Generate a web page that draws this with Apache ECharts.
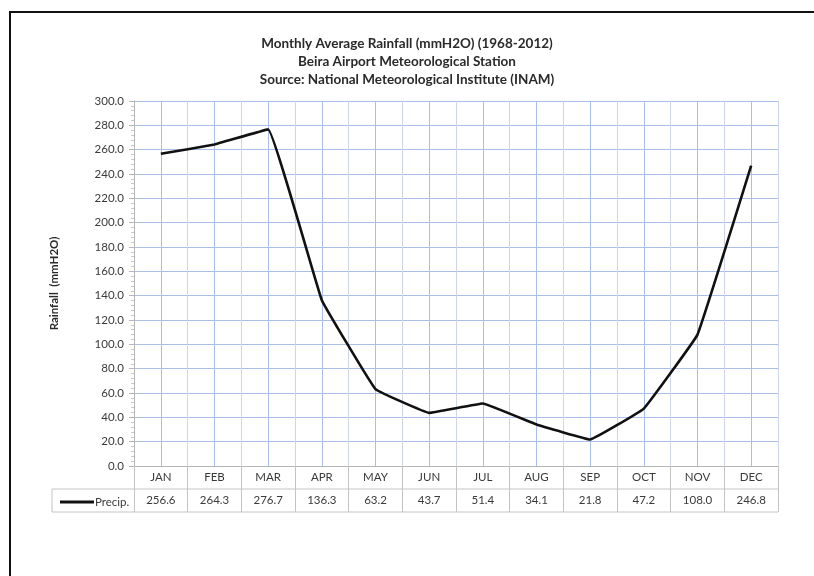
<!DOCTYPE html>
<html>
<head>
<meta charset="utf-8">
<script src="https://cdn.jsdelivr.net/npm/echarts@6/dist/echarts.min.js"></script>
<style>
  html, body { margin: 0; padding: 0; background: #fff; }
  #chart { width: 814px; height: 576px; }
</style>
</head>
<body>
<div id="chart"></div>
<script>
// Monthly average rainfall at Beira Airport, 1968-2012
const months = ['JAN', 'FEB', 'MAR', 'APR', 'MAY', 'JUN', 'JUL', 'AUG', 'SEP', 'OCT', 'NOV', 'DEC'];
const precip = [256.6, 264.3, 276.7, 136.3, 63.2, 43.7, 51.4, 34.1, 21.8, 47.2, 108.0, 246.8];
const seriesName = 'Precip.';
const titleLines = [
  'Monthly Average Rainfall (mmH2O) (1968-2012)',
  'Beira Airport Meteorological Station',
  'Source: National Meteorological Institute (INAM)'
];
const yAxisTitle = 'Rainfall  (mmH2O)';

const FONT = 'Lato, "Liberation Sans", sans-serif';
const TEXT = '#3a3a3a';
const GRID_LEFT = 134, GRID_RIGHT = 36, GRID_TOP = 101, GRID_BOTTOM = 110;
const W = 814, H = 576;
const axisY = H - GRID_BOTTOM;        // baseline of the plot
const rowH = 23;                       // data-table row height
const tableLeft = 52, tableRight = W - GRID_RIGHT;
const tableBorder = '#c4c4c4';

const chart = echarts.init(document.getElementById('chart'), null, { renderer: 'canvas' });

chart.setOption({
  backgroundColor: '#ffffff',
  animation: false,
  title: {
    text: titleLines.join('\n'),
    left: 'center',
    top: 30,
    textStyle: { fontFamily: FONT, fontSize: 13.5, fontWeight: 'bold', color: '#2a2a2a', lineHeight: 18 }
  },
  legend: {
    data: [{ name: seriesName, icon: 'rect' }],
    left: tableLeft + 3,
    top: axisY + rowH + 2,
    itemWidth: 34,
    itemHeight: 3,
    textStyle: { fontFamily: FONT, fontSize: 11.5, color: TEXT, padding: [0, 0, 0, -4] }
  },
  grid: { left: GRID_LEFT, right: GRID_RIGHT, top: GRID_TOP, bottom: GRID_BOTTOM },
  xAxis: {
    type: 'category',
    data: months,
    boundaryGap: true,
    axisLine: { lineStyle: { color: '#b5b5b5', width: 1 } },
    axisTick: { show: true, interval: 0, inside: false, length: rowH * 2, lineStyle: { color: tableBorder } },
    axisLabel: {
      interval: 0,
      margin: 0,
      formatter: (v, i) => `{m|${v}}\n{v|${precip[i].toFixed(1)}}`,
      rich: {
        m: { fontFamily: FONT, fontSize: 11.5, color: TEXT, lineHeight: rowH, height: rowH },
        v: { fontFamily: FONT, fontSize: 11.5, color: TEXT, lineHeight: rowH, height: rowH }
      }
    },
    splitLine: { show: true, interval: 0, lineStyle: { color: '#cdd5e6', width: 1 } }
  },
  yAxis: {
    type: 'value',
    min: 0,
    max: 300,
    interval: 20,
    name: yAxisTitle,
    nameLocation: 'middle',
    nameGap: 74,
    nameRotate: 90,
    nameTextStyle: { fontFamily: FONT, fontSize: 11.5, fontWeight: 'bold', color: '#2a2a2a' },
    axisLine: { show: true, lineStyle: { color: '#b5b5b5' } },
    axisTick: { show: true, length: 5, lineStyle: { color: '#b5b5b5' } },
    minorTick: { show: true, splitNumber: 5, length: 3, lineStyle: { color: '#c8c8c8' } },
    axisLabel: {
      margin: 10,
      formatter: v => v.toFixed(1),
      fontFamily: FONT, fontSize: 11.5, color: TEXT
    },
    splitLine: { show: true, lineStyle: { color: '#a9bfe8', width: 1 } }
  },
  series: [{
    name: seriesName,
    type: 'line',
    data: precip,
    smooth: 0.06,
    showSymbol: false,
    symbol: 'none',
    lineStyle: { color: '#111', width: 2.6 },
    itemStyle: { color: '#111' },
    z: 5,
    markLine: {
      silent: true,
      symbol: 'none',
      label: { show: false },
      lineStyle: { color: '#a9bfe8', width: 1, type: 'solid' },
      data: months.map(m => ({ xAxis: m })),
      z: 1
    }
  }],
  graphic: [
    // data table borders below the axis
    { type: 'line', shape: { x1: tableLeft, y1: axisY + rowH, x2: tableRight, y2: axisY + rowH },
      style: { stroke: tableBorder, lineWidth: 1 } },
    { type: 'line', shape: { x1: tableLeft, y1: axisY + rowH * 2, x2: tableRight, y2: axisY + rowH * 2 },
      style: { stroke: tableBorder, lineWidth: 1 } },
    { type: 'line', shape: { x1: tableLeft, y1: axisY + rowH, x2: tableLeft, y2: axisY + rowH * 2 },
      style: { stroke: tableBorder, lineWidth: 1 } },
    // outer frame
    { type: 'rect', shape: { x: 10, y: 12, width: 900, height: 700 },
      style: { fill: 'none', stroke: '#111', lineWidth: 2 }, z: 100 }
  ]
});
</script>
</body>
</html>
